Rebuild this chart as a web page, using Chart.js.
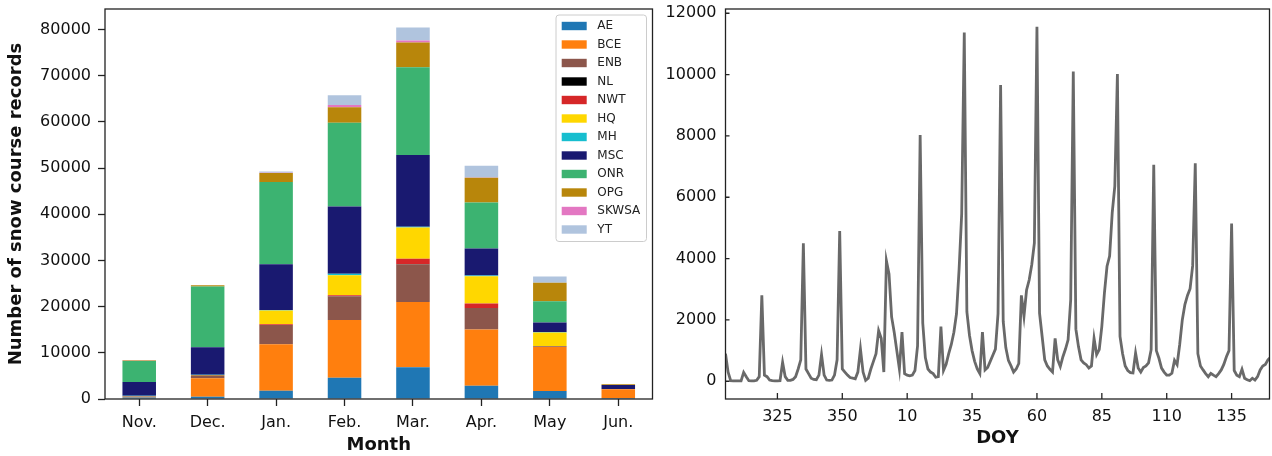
<!DOCTYPE html>
<html lang="en">
  <head>
    <meta charset="UTF-8" />
    <title>Snow course records</title>
    <style>
      html, body { margin: 0; padding: 0; background: #fff; }
      body { width: 1272px; height: 456px; position: relative; overflow: hidden; }
      #barChart { position: absolute; left: 0; top: 0; }
      #lineChart { position: absolute; left: 640px; top: 0; }
    </style>
  </head>
  <body>
    <canvas id="barChart" width="665" height="456"></canvas>
    <canvas id="lineChart" width="632" height="456"></canvas>

    <script src="https://cdn.jsdelivr.net/npm/chart.js@4.4.1/dist/chart.umd.min.js"></script>
    <script>
      // left panel: records per month, stacked by agency
      const months = ["Nov.", "Dec.", "Jan.", "Feb.", "Mar.", "Apr.", "May", "Jun."];
      const AE = [300, 500, 1800, 4620, 6860, 2890, 1730, 200];
      const BCE = [200, 4000, 10050, 12500, 14160, 12140, 9540, 1900];
      const ENB = [100, 500, 4190, 5060, 8170, 4690, 150, 50];
      const NL = [0, 50, 0, 50, 50, 0, 0, 0];
      const NWT = [0, 50, 140, 240, 1100, 940, 0, 0];
      const HQ = [0, 100, 2970, 4330, 6800, 5930, 2960, 0];
      const MH = [100, 50, 140, 290, 140, 140, 140, 0];
      const MSC = [3000, 5950, 9900, 14600, 15530, 5850, 2030, 900];
      const ONR = [4500, 13150, 17770, 18130, 19010, 9970, 4620, 0];
      const OPG = [150, 250, 1950, 3330, 5340, 5350, 3970, 150];
      const SKWSA = [50, 0, 50, 500, 440, 50, 0, 0];
      const YT = [50, 50, 310, 2100, 2810, 2550, 1380, 0];
      const barTicks = [0, 10000, 20000, 30000, 40000, 50000, 60000, 70000, 80000];

      // right panel: daily records, first value is DOY 305
      const firstDoy = 305;
      const records = [
        900, 300, 20, 10, 10, 10, 10, 290, 150, 20,
        10, 10, 30, 150, 2800, 200, 150, 40, 20, 10,
        10, 20, 620, 150, 30, 30, 60, 150, 400, 700,
        4500, 400, 250, 100, 60, 50, 200, 870, 200, 40,
        30, 40, 200, 700, 4900, 400, 300, 200, 120, 100,
        80, 300, 1050, 300, 30, 100, 400, 650, 900, 1650,
        1400, 300, 3930, 3500, 2100, 1600, 1000, 400, 1600, 250,
        200, 180, 200, 350, 1150, 8030, 1900, 770, 400, 300,
        250, 130, 150, 1780, 350, 550, 900, 1200, 1600, 2200,
        3650, 5450, 11370, 2270, 1500, 1000, 650, 400, 250, 1600,
        370, 450, 650, 850, 1050, 2200, 9660, 1950, 1100, 680,
        500, 300, 400, 580, 2800, 2120, 2980, 3300, 3800, 4500,
        11560, 2220, 1460, 700, 500, 390, 300, 1400, 700, 480,
        800, 1050, 1350, 2650, 10100, 1700, 1130, 700, 600, 540,
        430, 500, 1400, 870, 1030, 1790, 2880, 3750, 4080, 5490,
        6360, 10020, 1460, 900, 500, 350, 280, 270, 920, 430,
        300, 450, 500, 600, 1030, 7060, 1000, 750, 430, 300,
        200, 200, 260, 680, 540, 1200, 2000, 2500, 2800, 3020,
        3770, 7110, 900, 500, 370, 250, 150, 260, 200, 150,
        250, 370, 550, 800, 1000, 5140, 350, 200, 150, 390,
        100, 50, 20, 100, 40, 150, 370, 500, 550, 700,
        780,
      ];
      const doyTicks = [325, 350, 10, 35, 60, 85, 110, 135];
      const lineTicks = [0, 2000, 4000, 6000, 8000, 10000, 12000];

      const FONT = "DejaVu Sans";
      const INK = "#111";
      Chart.defaults.font.family = FONT;
      Chart.defaults.color = INK;

      function dayIndex(doy) {
        return doy >= firstDoy ? doy - firstDoy : doy + 365 - firstDoy;
      }
      function doyFromIndex(i) {
        const d = i + firstDoy;
        return d > 365 ? d - 365 : d;
      }
      // keep the plot area where it is, whatever the edge labels want
      function fixSize(prop, size) {
        return (s) => {
          s[prop] = size;
          s.paddingTop = 0;
          s.paddingBottom = 0;
          s.paddingLeft = 0;
          s.paddingRight = 0;
        };
      }

      // black box round the plot area, optional inward tick marks
      const frame = {
        id: "frame",
        afterDraw(chart, args, opts) {
          const { ctx, chartArea: a } = chart;
          ctx.save();
          ctx.strokeStyle = "#222";
          ctx.lineWidth = 1.3;
          if (opts.inward) {
            ctx.beginPath();
            chart.scales.x.ticks.forEach((t) => {
              const px = chart.scales.x.getPixelForValue(t.value);
              ctx.moveTo(px, a.bottom);
              ctx.lineTo(px, a.bottom - 6);
            });
            chart.scales.y.ticks.forEach((t) => {
              const py = chart.scales.y.getPixelForValue(t.value);
              ctx.moveTo(a.left, py);
              ctx.lineTo(a.left + 4, py);
            });
            ctx.stroke();
          }
          ctx.strokeRect(a.left, a.top, a.right - a.left, a.bottom - a.top);
          ctx.restore();
        },
      };

      // legend box in the upper right of the bar panel
      const boxLegend = {
        id: "boxLegend",
        afterDraw(chart) {
          const { ctx, chartArea: a } = chart;
          const w = 90.5, h = 226.5;
          const x0 = a.right - 6 - w, y0 = a.top + 6;
          ctx.save();
          ctx.fillStyle = "rgba(255,255,255,0.8)";
          ctx.strokeStyle = "#cccccc";
          ctx.lineWidth = 1;
          ctx.beginPath();
          ctx.roundRect(x0, y0, w, h, 3);
          ctx.fill();
          ctx.stroke();
          ctx.font = "12px '" + FONT + "'";
          ctx.textBaseline = "middle";
          chart.data.datasets.forEach((ds, i) => {
            const cy = y0 + 11 + i * 18.5;
            ctx.fillStyle = ds.backgroundColor;
            ctx.fillRect(x0 + 5.7, cy - 4.2, 25, 8.4);
            ctx.fillStyle = "#222";
            ctx.fillText(ds.label, x0 + 41.3, cy);
          });
          ctx.restore();
        },
      };

      const agencies = [
        ["AE", AE, "#1f77b4"],
        ["BCE", BCE, "#ff7f0e"],
        ["ENB", ENB, "#8c564b"],
        ["NL", NL, "#000000"],
        ["NWT", NWT, "#d62728"],
        ["HQ", HQ, "#ffd700"],
        ["MH", MH, "#17becf"],
        ["MSC", MSC, "#191970"],
        ["ONR", ONR, "#3cb371"],
        ["OPG", OPG, "#b8860b"],
        ["SKWSA", SKWSA, "#e377c2"],
        ["YT", YT, "#b0c4de"],
      ];

      new Chart(document.getElementById("barChart"), {
        type: "bar",
        data: {
          labels: months,
          datasets: agencies.map(([name, vals, col]) => ({
            label: name,
            data: vals,
            backgroundColor: col,
            borderWidth: 0,
            categoryPercentage: 1,
            barPercentage: 0.49,
          })),
        },
        options: {
          responsive: false,
          animation: false,
          devicePixelRatio: 1,
          layout: { padding: { left: 0, right: 12.5, top: 9, bottom: 0 } },
          plugins: { legend: { display: false }, tooltip: { enabled: false }, frame: {} },
          scales: {
            x: {
              stacked: true,
              grid: { drawOnChartArea: false, offset: false, tickLength: 7, tickColor: "#222", tickWidth: 1.3 },
              border: { display: false },
              ticks: { font: { size: 16 }, padding: 7, maxRotation: 0, color: INK },
              title: {
                display: true,
                text: "Month",
                font: { size: 18, weight: "bold" },
                color: INK,
                padding: { top: 0, bottom: 0 },
              },
              afterFit: fixSize("height", 57),
            },
            y: {
              stacked: true,
              min: 0,
              max: 84430,
              afterBuildTicks: (s) => { s.ticks = barTicks.map((v) => ({ value: v })); },
              grid: { drawOnChartArea: false, tickLength: 7, tickColor: "#222", tickWidth: 1.3 },
              border: { display: false },
              ticks: { font: { size: 16 }, padding: 7, color: INK, callback: (v) => String(v) },
              title: {
                display: true,
                text: "Number of snow course records",
                font: { size: 18, weight: "bold" },
                color: INK,
                padding: { top: 6, bottom: 0 },
              },
              afterFit: fixSize("width", 105),
            },
          },
        },
        plugins: [frame, boxLegend],
      });

      new Chart(document.getElementById("lineChart"), {
        type: "line",
        data: {
          datasets: [
            {
              label: "records",
              data: records.map((v, i) => ({ x: i, y: v })),
              borderColor: "#696969",
              borderWidth: 2.8,
              pointRadius: 0,
              tension: 0,
              fill: false,
            },
          ],
        },
        options: {
          responsive: false,
          animation: false,
          devicePixelRatio: 1,
          layout: { padding: { left: 0, right: 2.5, top: 9, bottom: 0 } },
          plugins: { legend: { display: false }, tooltip: { enabled: false }, frame: { inward: true } },
          scales: {
            x: {
              type: "linear",
              min: 0,
              max: 209.6,
              afterBuildTicks: (s) => { s.ticks = doyTicks.map((d) => ({ value: dayIndex(d) })); },
              grid: { display: false, drawTicks: false },
              border: { display: false },
              ticks: {
                font: { size: 16 },
                padding: 8,
                maxRotation: 0,
                autoSkip: false,
                color: INK,
                callback: (v) => String(doyFromIndex(v)),
              },
              title: {
                display: true,
                text: "DOY",
                font: { size: 18, weight: "bold" },
                color: INK,
                padding: { top: 0, bottom: 7 },
              },
              afterFit: fixSize("height", 57),
            },
            y: {
              min: -578,
              max: 12138,
              afterBuildTicks: (s) => { s.ticks = lineTicks.map((v) => ({ value: v })); },
              grid: { display: false, drawTicks: false },
              border: { display: false },
              ticks: { font: { size: 16 }, padding: 9, color: INK, callback: (v) => String(v) },
              afterFit: fixSize("width", 85.5),
            },
          },
        },
        plugins: [frame],
      });
    </script>
  </body>
</html>
